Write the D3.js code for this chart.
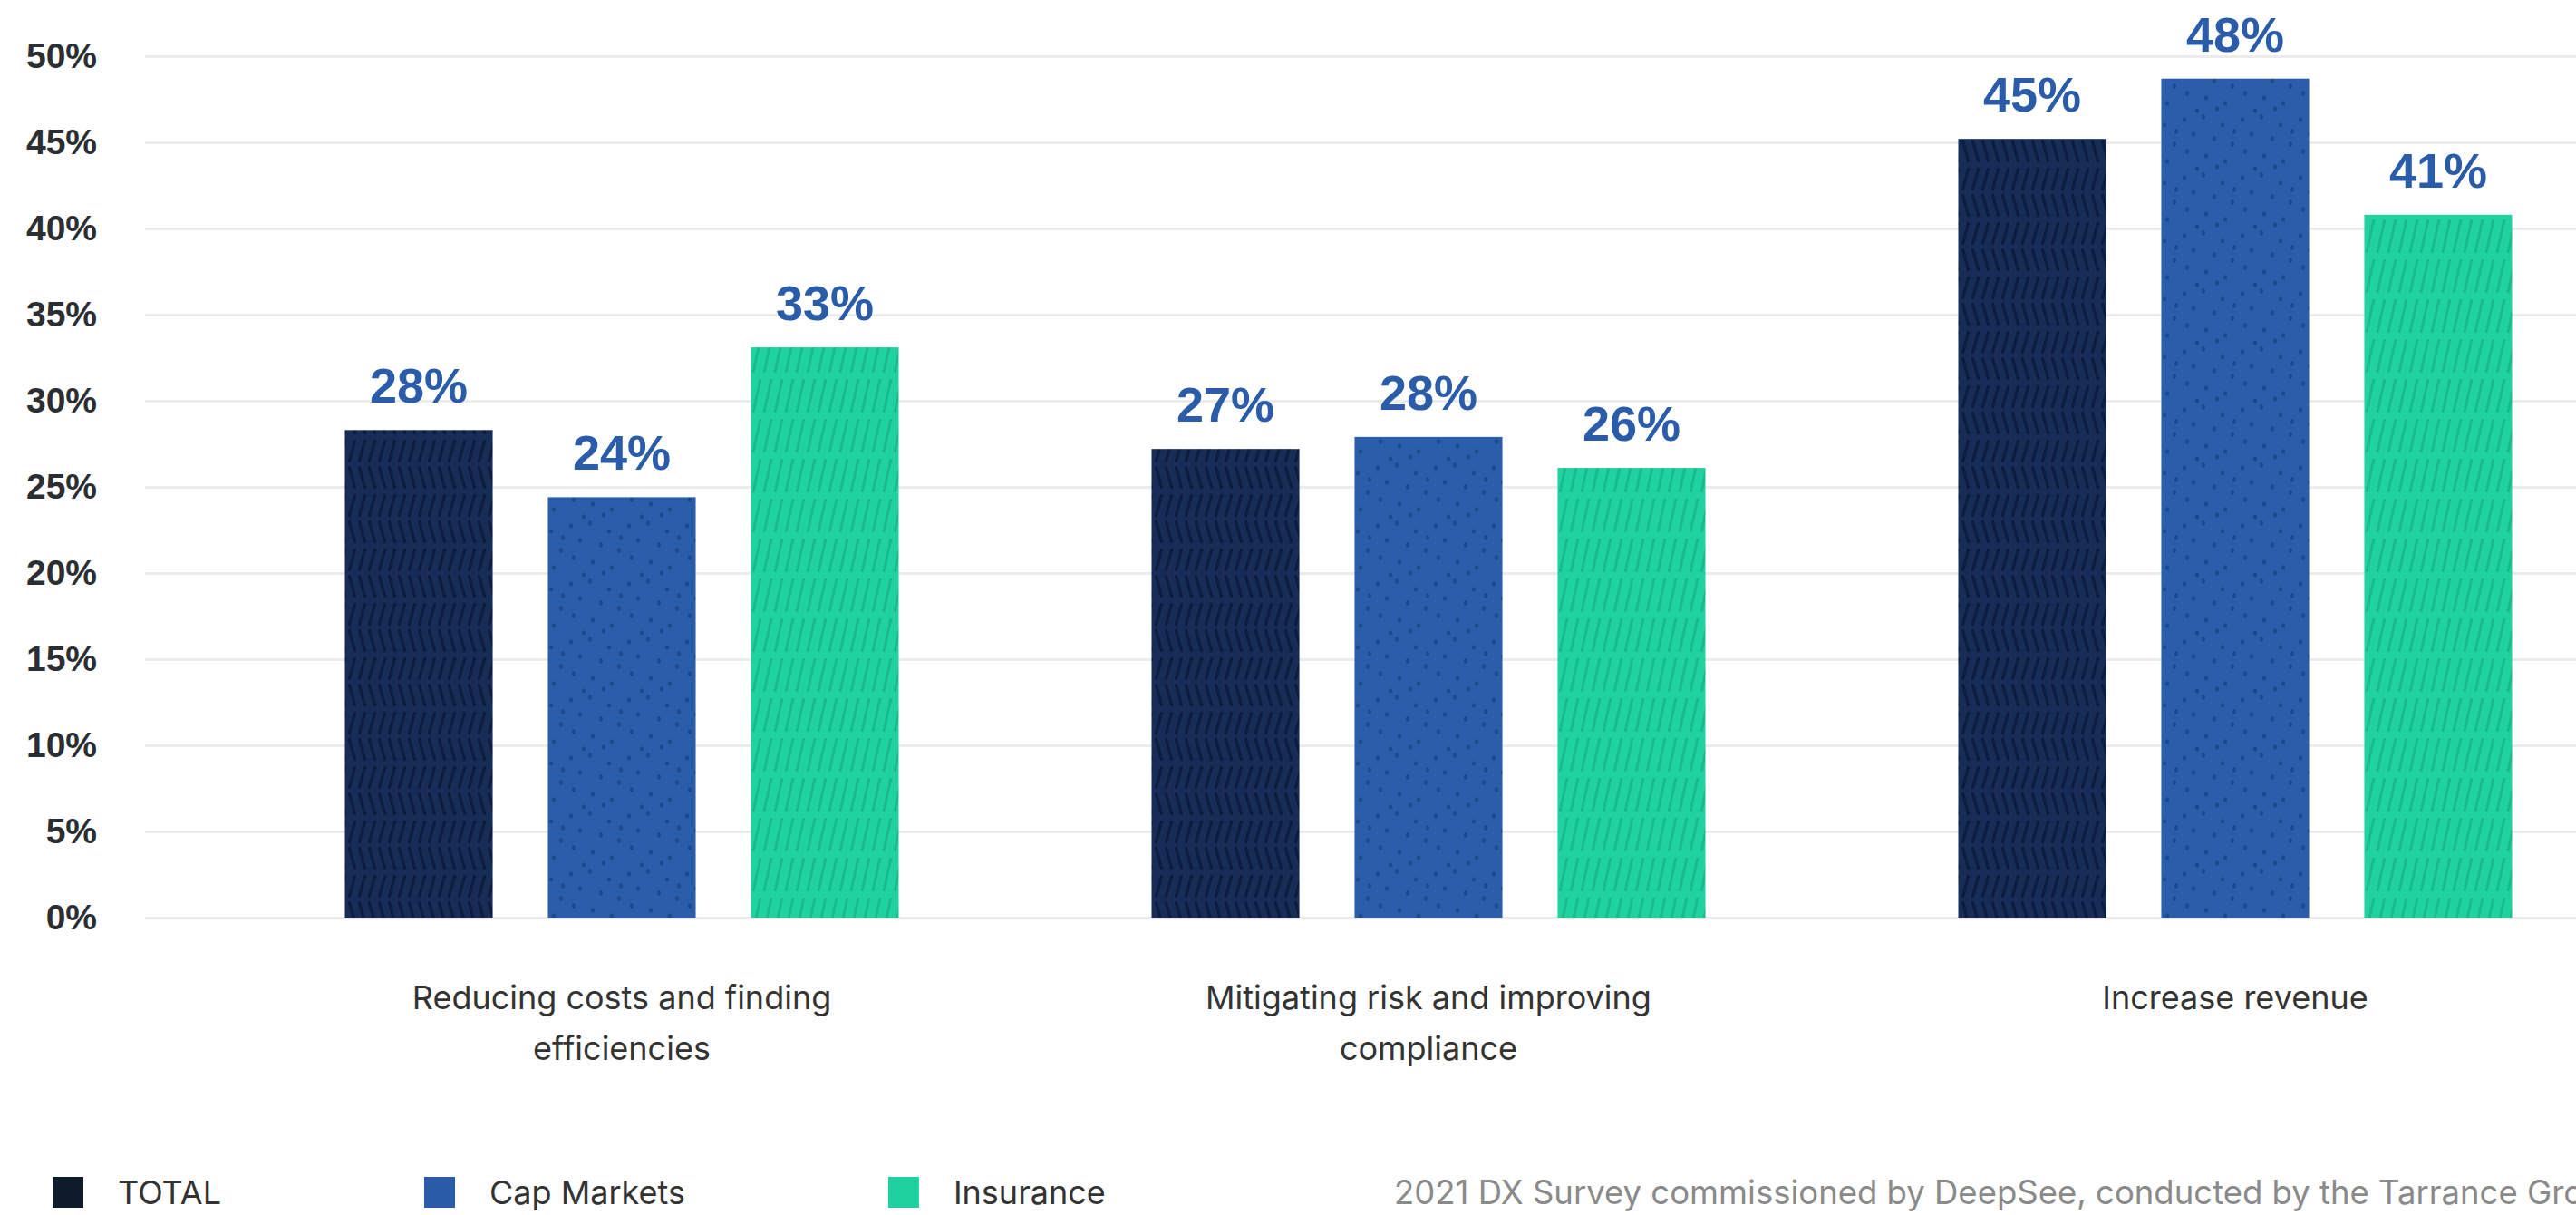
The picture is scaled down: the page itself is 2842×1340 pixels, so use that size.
<!DOCTYPE html>
<html>
<head>
<meta charset="utf-8">
<script src="https://cdn.jsdelivr.net/npm/d3@7"></script>
<style>
  html, body { margin: 0; padding: 0; background: #fff; }
  .chart svg { display: block; }
</style>
</head>
<body>
<div class="chart"></div>
<script>
var categories = [
  'Reducing costs and finding efficiencies',
  'Mitigating risk and improving compliance',
  'Increase revenue'
];
var seriesNames = ['TOTAL', 'Cap Markets', 'Insurance'];
var totalValues = [28.3, 27.2, 45.2];
var capMarketsValues = [24.4, 27.9, 48.7];
var insuranceValues = [33.1, 26.1, 40.8];
var totalLabels = ['28%', '27%', '45%'];
var capMarketsLabels = ['24%', '28%', '48%'];
var insuranceLabels = ['33%', '26%', '41%'];
var yTicks = [0, 5, 10, 15, 20, 25, 30, 35, 40, 45, 50];
var yTickLabels = ['0%', '5%', '10%', '15%', '20%', '25%', '30%', '35%', '40%', '45%', '50%'];
var footnote = '2021 DX Survey commissioned by DeepSee, conducted by the Tarrance Group';

var margin = { top: 62, right: 0, bottom: 328, left: 160 };
var width = 2842 - margin.left - margin.right;
var height = 1340 - margin.top - margin.bottom;

var labelFont = '"Liberation Sans", Arial, sans-serif';
var textFont = 'Inter, "Noto Sans", sans-serif';

var data = categories.map(function (c, i) {
  return {
    category: c,
    values: [
      { key: 'TOTAL', value: totalValues[i], label: totalLabels[i] },
      { key: 'Cap Markets', value: capMarketsValues[i], label: capMarketsLabels[i] },
      { key: 'Insurance', value: insuranceValues[i], label: insuranceLabels[i] }
    ]
  };
});

var root = d3.select('.chart')
  .append('svg')
    .attr('width', width + margin.left + margin.right)
    .attr('height', height + margin.top + margin.bottom);

// bar textures
var defs = root.append('defs');

var pTotal = defs.append('pattern')
  .attr('id', 'pat-total')
  .attr('patternUnits', 'userSpaceOnUse')
  .attr('width', 11).attr('height', 60);
pTotal.append('rect').attr('width', 11).attr('height', 60).attr('fill', '#172d57');
pTotal.append('path')
  .attr('d', 'M1,28 L8,3 M1,32 L8,57')
  .attr('stroke', '#0d1d3f').attr('stroke-width', 3.4).attr('fill', 'none');

var pCap = defs.append('pattern')
  .attr('id', 'pat-cap')
  .attr('patternUnits', 'userSpaceOnUse')
  .attr('width', 64).attr('height', 64);
pCap.append('rect').attr('width', 64).attr('height', 64).attr('fill', '#2a5eab');
var dots = [[5, 6], [26, 3], [47, 12], [15, 22], [38, 27], [58, 33], [8, 41], [29, 46], [50, 52], [19, 60], [41, 58], [60, 19]];
pCap.selectAll('ellipse')
  .data(dots)
  .enter()
  .append('ellipse')
    .attr('cx', d => d[0]).attr('cy', d => d[1])
    .attr('rx', 2.2).attr('ry', 2.8)
    .attr('fill', '#1c4a8c');

var pIns = defs.append('pattern')
  .attr('id', 'pat-ins')
  .attr('patternUnits', 'userSpaceOnUse')
  .attr('width', 12).attr('height', 44);
pIns.append('rect').attr('width', 12).attr('height', 44).attr('fill', '#1fd29f');
pIns.append('path')
  .attr('d', 'M2,41 L10,4')
  .attr('stroke', '#19bb8b').attr('stroke-width', 3).attr('fill', 'none');

var fills = { 'TOTAL': 'url(#pat-total)', 'Cap Markets': 'url(#pat-cap)', 'Insurance': 'url(#pat-ins)' };
var legendColors = { 'TOTAL': '#0d1b2a', 'Cap Markets': '#2a5caa', 'Insurance': '#20d1a0' };

var svg = root.append('g')
  .attr('transform', 'translate(' + margin.left + ', ' + margin.top + ')');

var yScale = d3.scaleLinear()
  .domain([0, 50])
  .range([height, 0]);

var yAxis = svg.append('g')
  .call(d3.axisLeft(yScale)
    .tickValues(yTicks)
    .tickSize(-width)
    .tickPadding(53)
    .tickFormat((d, i) => yTickLabels[i]));
yAxis.select('.domain').remove();
yAxis.selectAll('line')
  .attr('stroke', '#ececec')
  .attr('stroke-width', 3);
yAxis.selectAll('text')
  .attr('font-family', labelFont)
  .attr('font-weight', 'bold')
  .attr('font-size', 39)
  .attr('fill', '#2b2f33');

var x0 = d3.scaleBand()
  .domain(categories)
  .range([81, 2751]);

var x1 = d3.scaleBand()
  .domain(seriesNames)
  .range([139.5, 750.5])
  .paddingInner(0.272);

var groups = svg.selectAll('.group')
  .data(data)
  .enter()
  .append('g')
    .attr('class', 'group')
    .attr('transform', d => 'translate(' + x0(d.category) + ', 0)');

groups.selectAll('rect')
  .data(d => d.values)
  .enter()
  .append('rect')
    .attr('x', d => x1(d.key))
    .attr('y', d => yScale(d.value))
    .attr('width', x1.bandwidth())
    .attr('height', d => height - yScale(d.value))
    .style('fill', d => fills[d.key]);

groups.selectAll('.value')
  .data(d => d.values)
  .enter()
  .append('text')
    .attr('class', 'value')
    .attr('x', d => x1(d.key) + x1.bandwidth() / 2)
    .attr('y', d => yScale(d.value) - 30)
    .attr('text-anchor', 'middle')
    .attr('font-family', labelFont)
    .attr('font-weight', 'bold')
    .attr('font-size', 54)
    .attr('fill', '#2a5caa')
    .text(d => d.label);

// category labels, wrapped
var catText = svg.selectAll('.cat')
  .data(categories)
  .enter()
  .append('text')
    .attr('class', 'cat')
    .attr('x', d => x0(d) + x0.bandwidth() / 2)
    .attr('y', height + 101)
    .attr('text-anchor', 'middle')
    .attr('font-family', textFont)
    .attr('font-size', 36)
    .attr('fill', '#333333');
catText.each(function (d) {
  wrap(d3.select(this), d, 530, 56);
});

// legend
var legend = root.append('g').attr('transform', 'translate(58, 1298)');
var lx = 0;
seriesNames.forEach(function (name) {
  var item = legend.append('g').attr('transform', 'translate(' + lx + ', 0)');
  item.append('rect')
    .attr('width', 34).attr('height', 34)
    .attr('fill', legendColors[name]);
  var t = item.append('text')
    .attr('x', 72)
    .attr('y', 30)
    .attr('font-family', textFont)
    .attr('font-size', 36)
    .attr('fill', '#333333')
    .text(name);
  lx += 72 + t.node().getComputedTextLength() + 224;
});

root.append('text')
  .attr('x', 1538)
  .attr('y', 1328)
  .attr('font-family', textFont)
  .attr('font-size', 36.5)
  .attr('fill', '#8a8a8a')
  .text(footnote);

function wrap(text, str, maxWidth, lineHeight) {
  var words = str.split(/\s+/);
  var x = text.attr('x');
  var line = [];
  var tspan = text.append('tspan').attr('x', x).attr('dy', 0);
  words.forEach(function (w) {
    line.push(w);
    tspan.text(line.join(' '));
    if (tspan.node().getComputedTextLength() > maxWidth && line.length > 1) {
      line.pop();
      tspan.text(line.join(' '));
      line = [w];
      tspan = text.append('tspan').attr('x', x).attr('dy', lineHeight).text(w);
    }
  });
}
</script>
</body>
</html>
